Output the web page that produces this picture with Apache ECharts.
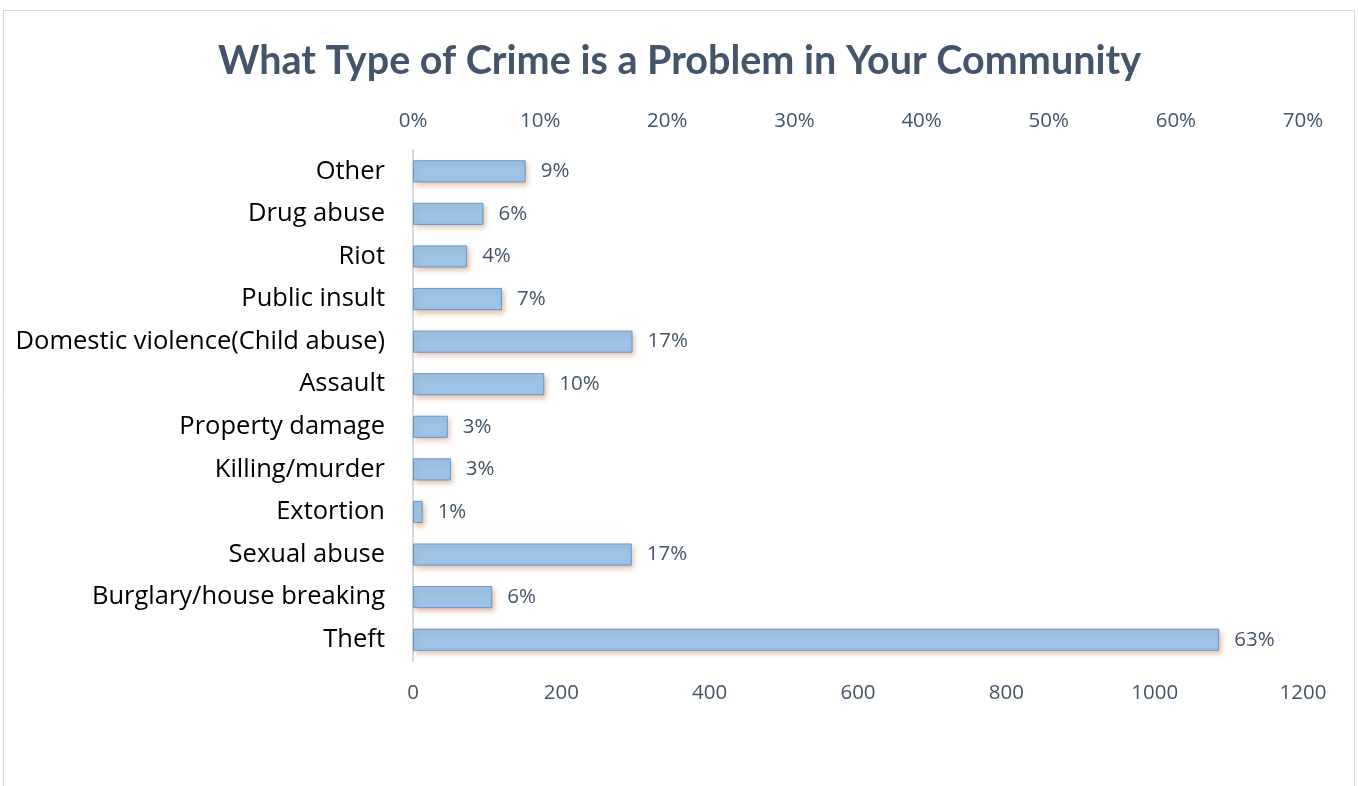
<!DOCTYPE html>
<html>
<head>
<meta charset="utf-8">
<script src="https://cdn.jsdelivr.net/npm/echarts@6/dist/echarts.min.js"></script>
<style>
  html, body { margin: 0; padding: 0; background: #ffffff; }
  #chart { width: 1359px; height: 786px; }
</style>
</head>
<body>
<div id="chart"></div>
<script>
// Crime types, listed bottom to top as drawn on the category axis
const categories = [
  'Theft',
  'Burglary/house breaking',
  'Sexual abuse',
  'Extortion',
  'Killing/murder',
  'Property damage',
  'Assault',
  'Domestic violence(Child abuse)',
  'Public insult',
  'Riot',
  'Drug abuse',
  'Other'
];
// Number of responses naming each crime type
const counts = [1087, 107, 295, 13, 51, 47, 177, 296, 120, 73, 95, 152];
// Share of respondents naming each crime type (%)
const percents = [63, 6, 17, 1, 3, 3, 10, 17, 7, 4, 6, 9];
// Axis ranges
const countTicks = { min: 0, max: 1200, interval: 200 };
const percentTicks = { min: 0, max: 0.7, interval: 0.1 };

const FONT = 'Open Sans';
const TITLE_FONT = 'Lato';
const SLATE = '#44546A';

const chart = echarts.init(document.getElementById('chart'), null, { renderer: 'canvas' });

chart.setOption({
  backgroundColor: '#ffffff',
  animation: false,
  title: {
    text: 'What Type of Crime is a Problem in Your Community',
    left: 'center',
    top: 36,
    textStyle: { fontFamily: TITLE_FONT, fontWeight: 'bold', fontSize: 39.5, color: SLATE }
  },
  graphic: [{
    type: 'rect',
    shape: { x: 3.5, y: 10.5, width: 1351, height: 800 },
    style: { fill: 'none', stroke: '#D9D9D9', lineWidth: 1 },
    silent: true
  }],
  grid: { left: 413, right: 56, top: 150, bottom: 125, containLabel: false },
  xAxis: [{
    type: 'value',
    position: 'bottom',
    min: countTicks.min, max: countTicks.max, interval: countTicks.interval,
    axisLine: { show: false },
    axisTick: { show: false },
    splitLine: { show: false },
    axisLabel: {
      margin: 22, fontFamily: FONT, fontSize: 20.5, color: SLATE,
      formatter: v => String(v)
    }
  }, {
    type: 'value',
    position: 'top',
    min: percentTicks.min, max: percentTicks.max, interval: percentTicks.interval,
    axisLine: { show: false },
    axisTick: { show: false },
    splitLine: { show: false },
    axisLabel: {
      margin: 18, fontFamily: FONT, fontSize: 20.5, color: SLATE,
      formatter: v => Math.round(v * 100) + '%'
    }
  }],
  yAxis: {
    type: 'category',
    data: categories,
    axisLine: { show: true, lineStyle: { color: '#D9D9D9', width: 2 } },
    axisTick: { show: false },
    axisLabel: { margin: 28, fontFamily: FONT, fontSize: 25.5, color: '#000000' }
  },
  series: [{
    type: 'bar',
    xAxisIndex: 0,
    data: counts,
    barCategoryGap: '48%',
    itemStyle: {
      color: '#9DC3E6',
      borderColor: '#5B9BD5',
      borderWidth: 1,
      shadowColor: 'rgba(190, 110, 60, 0.45)',
      shadowBlur: 5,
      shadowOffsetX: 2,
      shadowOffsetY: 3
    },
    label: {
      show: true,
      position: 'right',
      distance: 15,
      fontFamily: FONT,
      fontSize: 20.5,
      color: SLATE,
      formatter: p => percents[p.dataIndex] + '%'
    }
  }]
});
</script>
</body>
</html>
